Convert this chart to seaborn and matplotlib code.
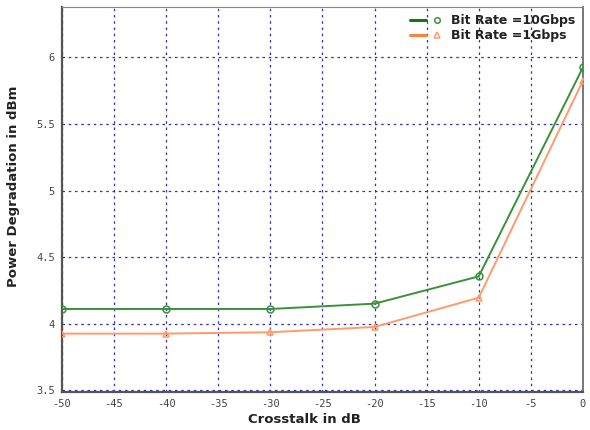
import matplotlib
matplotlib.use("Agg")
import matplotlib.pyplot as plt
import seaborn as sns
import pandas as pd
from matplotlib.lines import Line2D
from matplotlib.legend_handler import HandlerTuple

crosstalk = [-50, -40, -30, -20, -10, 0]
rate_10g = [4.11, 4.11, 4.11, 4.15, 4.355, 5.925]
rate_1g = [3.925, 3.925, 3.935, 3.975, 4.195, 5.825]
series_names = ["Bit Rate =10Gbps", "Bit Rate =1Gbps"]
xticks = [-50, -45, -40, -35, -30, -25, -20, -15, -10, -5, 0]
yticks = [3.5, 4, 4.5, 5, 5.5, 6]

sns.set_style("white")
plt.rcParams['font.family'] = ['DejaVu Sans']

df = pd.DataFrame({
    "x": crosstalk * 2,
    "y": rate_10g + rate_1g,
    "series": [series_names[0]] * len(crosstalk) + [series_names[1]] * len(crosstalk),
})

line_cols = {series_names[0]: "#3a913a", series_names[1]: "#ff9a6a"}
leg_cols = {series_names[0]: "#137a13", series_names[1]: "#ff8040"}
markers = {series_names[0]: "o", series_names[1]: "^"}

fig = plt.figure(figsize=(5.9, 4.3), dpi=100)
ax = fig.add_axes([0.105, 0.088, 0.883, 0.896])

for name in series_names:
    sub = df[df["series"] == name]
    sns.lineplot(data=sub, x="x", y="y", ax=ax, color=line_cols[name],
                 marker=markers[name], markersize=5, markerfacecolor="none",
                 markeredgecolor=line_cols[name], markeredgewidth=1.1,
                 linewidth=1.4, legend=False, zorder=3)

ax.set_xlim(-50, 0)
ax.set_ylim(3.485, 6.38)
ax.set_xticks(xticks)
ax.set_yticks(yticks)
ax.set_xticklabels([str(t) for t in xticks])
ax.set_yticklabels(["3.5", "4", "4.5", "5", "5.5", "6"])
ax.grid(True, color="#3030b0", linestyle=(0, (2.0, 3.0)), linewidth=0.9, zorder=1)
ax.tick_params(axis="both", direction="out", length=3, width=1, color="#333333",
               labelsize=7.5, labelcolor="#444444", pad=2)
for lab in ax.get_xticklabels() + ax.get_yticklabels():
    lab.set_family("DejaVu Sans Mono")

ax.spines["left"].set_color("#555555")
ax.spines["left"].set_linewidth(1.6)
ax.spines["bottom"].set_color("#555555")
ax.spines["bottom"].set_linewidth(1.6)
ax.spines["top"].set_color("#888888")
ax.spines["right"].set_color("#777777")
ax.spines["right"].set_linewidth(1.4)

ax.set_xlabel("Crosstalk in dB", fontsize=9.5, fontweight="bold", color="#222222")
ax.set_ylabel("Power Degradation in dBm", fontsize=9.5, fontweight="bold", color="#222222")
ax.xaxis.set_label_coords(0.466, -0.055)
ax.yaxis.set_label_coords(-0.08, 0.535)

handles = []
for name in series_names:
    ln = Line2D([], [], color=leg_cols[name], linewidth=2.2)
    mk = Line2D([], [], color=line_cols[name], marker=markers[name], linestyle="none",
                markersize=4, markerfacecolor="none", markeredgewidth=1.1)
    handles.append((ln, mk))
leg = ax.legend(handles, series_names, loc="upper right", frameon=False,
                handler_map={tuple: HandlerTuple(ndivide=None, pad=0.3)},
                handlelength=2.8, fontsize=9, borderaxespad=0.2,
                labelspacing=0.15, handletextpad=0.5)
for t in leg.get_texts():
    t.set_fontweight("bold")
    t.set_color("#222222")

fig.savefig("out.png", dpi=100)
